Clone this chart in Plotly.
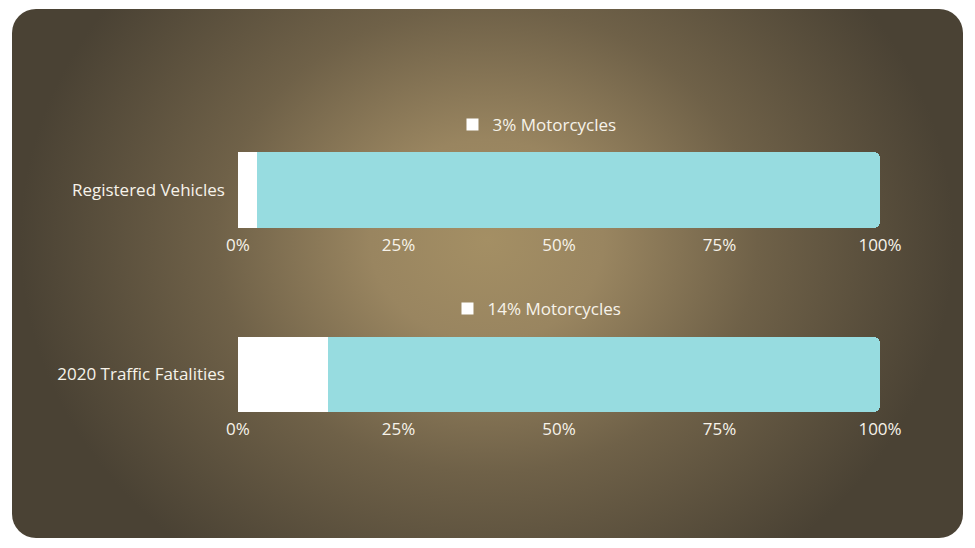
import base64
import plotly.graph_objects as go

categories = ["Registered Vehicles", "2020 Traffic Fatalities"]
motorcycles = [3, 14]
other = [97, 86]
tick_vals = [0, 25, 50, 75, 100]
tick_text = ["0%", "25%", "50%", "75%", "100%"]

WHITE = "#FFFFFF"
CYAN = "#97DCE0"
TEXT = "#F7F3EA"

# page body has an 8px margin, so the figure is 959x532 and sits at (8, 8)
W, H = 959, 532

# rounded panel with radial brown gradient, used as background image
svg = """<svg xmlns='http://www.w3.org/2000/svg' width='959' height='532' viewBox='0 0 959 532' preserveAspectRatio='none'>
<defs><radialGradient id='g' gradientUnits='userSpaceOnUse' cx='479' cy='232' r='467'
 gradientTransform='translate(0,232) scale(1,0.86) translate(0,-232)'>
<stop offset='0' stop-color='#A48F64'/>
<stop offset='0.25' stop-color='#998560'/>
<stop offset='0.58' stop-color='#6F6148'/>
<stop offset='1' stop-color='#4A4234'/>
</radialGradient></defs>
<rect x='4' y='1' width='951' height='529' rx='24' ry='24' fill='url(#g)'/>
</svg>"""
bg = "data:image/svg+xml;base64," + base64.b64encode(svg.encode()).decode()

fig = go.Figure()
for i, cat in enumerate(categories):
    ax = "" if i == 0 else str(i + 1)
    fig.add_trace(go.Bar(
        y=[cat], x=[motorcycles[i]], orientation="h",
        name="%d%% Motorcycles" % motorcycles[i],
        marker=dict(color=WHITE, line=dict(width=0)),
        xaxis="x" + ax, yaxis="y" + ax,
        legend="legend" + ax, hoverinfo="skip"))
    fig.add_trace(go.Bar(
        y=[cat], x=[other[i]], orientation="h",
        name="Other", showlegend=False,
        marker=dict(color=CYAN, line=dict(width=0), cornerradius=6),
        xaxis="x" + ax, yaxis="y" + ax, hoverinfo="skip"))

xax = dict(range=[0, 100], tickvals=tick_vals, ticktext=tick_text,
           showgrid=False, zeroline=False, showline=False, automargin=False,
           ticklabelstandoff=5, domain=[0.2398, 0.9093], fixedrange=True)
yax = dict(showgrid=False, zeroline=False, showline=False, automargin=False,
           ticklabelstandoff=12, fixedrange=True)

fig.update_layout(
    width=W, height=H, autosize=False,
    margin=dict(l=0, r=0, t=0, b=0, autoexpand=False),
    paper_bgcolor=WHITE, plot_bgcolor="rgba(0,0,0,0)",
    font=dict(family="Open Sans", size=17, color=TEXT),
    barmode="stack", bargap=0,
    xaxis=dict(xax, anchor="y"),
    yaxis=dict(yax, domain=[0.5865, 0.7293], anchor="x"),
    xaxis2=dict(xax, anchor="y2"),
    yaxis2=dict(yax, domain=[0.2406, 0.3816], anchor="x2"),
    legend=dict(x=0.5516, y=0.7801, xanchor="center", yanchor="middle",
                orientation="h", bgcolor="rgba(0,0,0,0)", font=dict(size=17)),
    legend2=dict(x=0.5516, y=0.4342, xanchor="center", yanchor="middle",
                 orientation="h", bgcolor="rgba(0,0,0,0)", font=dict(size=17)),
    images=[dict(source=bg, xref="paper", yref="paper", x=0, y=1,
                 sizex=1, sizey=1, sizing="stretch", layer="below")],
    showlegend=True,
)

fig.write_html("out.html", config={"responsive": False})
